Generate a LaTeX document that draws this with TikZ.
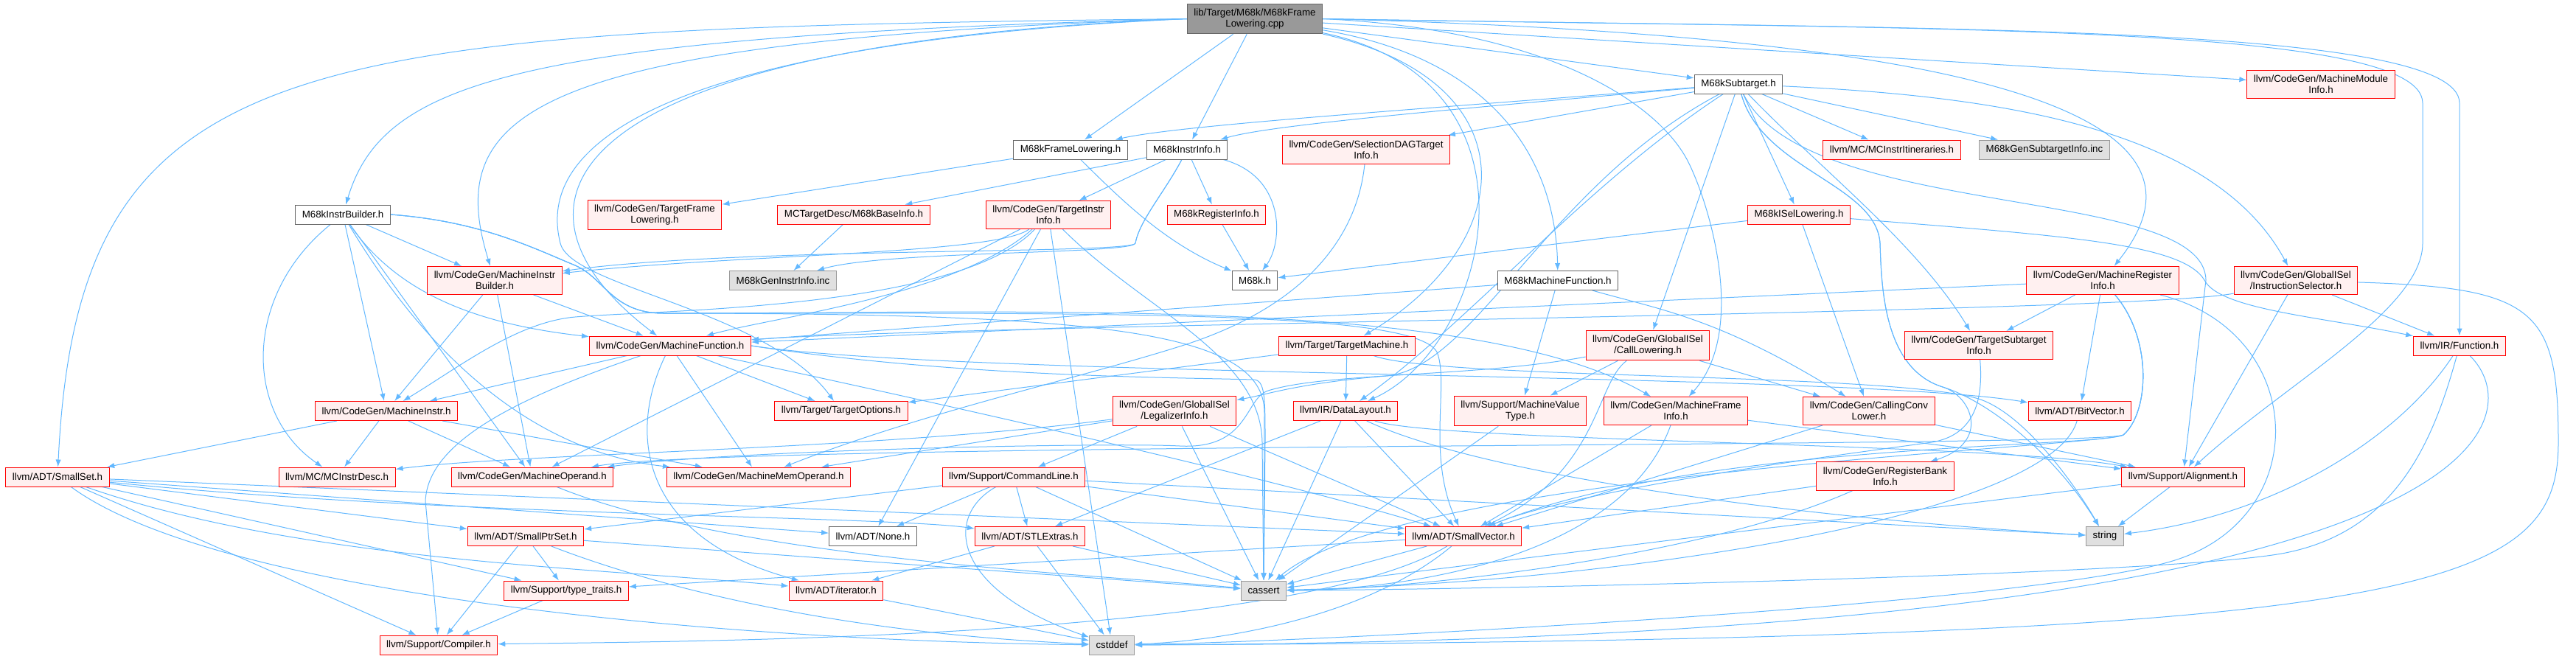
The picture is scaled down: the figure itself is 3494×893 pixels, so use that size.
\documentclass[tikz,border=0pt]{standalone}
\usepackage{fontspec}
\setmainfont{Liberation Sans}
\usetikzlibrary{arrows.meta}
\definecolor{edgeblue}{HTML}{63B8FF}
\definecolor{redfill}{HTML}{FFF0F0}
\definecolor{sysfill}{HTML}{E0E0E0}
\definecolor{sysline}{HTML}{999999}
\definecolor{rootfill}{HTML}{999999}
\definecolor{rootline}{HTML}{666666}
\pgfdeclarelayer{bg}
\pgfsetlayers{bg,main}
\begin{document}
\begin{tikzpicture}[x=0.75pt,y=-0.75pt,>={Latex[length=7.5pt,width=5.5pt]},
  hfile/.style={draw=red,fill=redfill,line width=0.75pt,font=\fontsize{10}{11.25}\selectfont,
    align=center,inner xsep=6.75pt,inner ysep=5pt,minimum height=19.5pt},
  wfile/.style={hfile,draw=rootline,fill=white},
  sfile/.style={hfile,draw=sysline,fill=sysfill},
  rfile/.style={hfile,draw=rootline,fill=rootfill},
  dep/.style={->,draw=edgeblue,line width=0.75pt}]
\useasboundingbox (0,0) rectangle (3494,893);

% rank 0 and 1
\node[rfile] (root) at (1702,25.5) {lib/Target/M68k/M68kFrame\\Lowering.cpp};
\node[wfile] (subtarget) at (2358,114) {M68kSubtarget.h};
\node[hfile] (modinfo) at (3148,114.5) {llvm/CodeGen/MachineModule\\Info.h};
% rank 2
\node[wfile] (framelow) at (1452,203) {M68kFrameLowering.h};
\node[wfile] (instrinfo) at (1610,203) {M68kInstrInfo.h};
\node[hfile] (seldag) at (1853,203) {llvm/CodeGen/SelectionDAGTarget\\Info.h};
\node[hfile] (mcitin) at (2566,203) {llvm/MC/MCInstrItineraries.h};
\node[sfile] (gensub) at (2773,203) {M68kGenSubtargetInfo.inc};
% rank 3
\node[wfile] (instrbuilder) at (465,291) {M68kInstrBuilder.h};
\node[hfile] (tframelow) at (888,291.5) {llvm/CodeGen/TargetFrame\\Lowering.h};
\node[hfile] (baseinfo) at (1158,291) {MCTargetDesc/M68kBaseInfo.h};
\node[hfile] (tinstrinfo) at (1422,291.5) {llvm/CodeGen/TargetInstr\\Info.h};
\node[hfile] (reginfo) at (1650,291) {M68kRegisterInfo.h};
\node[hfile] (isel) at (2440,291) {M68kISelLowering.h};
% rank 4
\node[hfile] (mibuilder) at (671,380.5) {llvm/CodeGen/MachineInstr\\Builder.h};
\node[sfile] (geninstr) at (1062,380.5) {M68kGenInstrInfo.inc};
\node[wfile] (m68kh) at (1702,380.5) {M68k.h};
\node[wfile] (m68kmf) at (2113,380.5) {M68kMachineFunction.h};
\node[hfile] (mreginfo) at (2852,380.5) {llvm/CodeGen/MachineRegister\\Info.h};
\node[hfile] (instsel) at (3114,380.5) {llvm/CodeGen/GlobalISel\\/InstructionSelector.h};
% rank 5
\node[hfile] (mfunc) at (909,469) {llvm/CodeGen/MachineFunction.h};
\node[hfile] (tmachine) at (1827,469) {llvm/Target/TargetMachine.h};
\node[hfile] (calllow) at (2235,468.5) {llvm/CodeGen/GlobalISel\\/CallLowering.h};
\node[hfile] (tsubinfo) at (2684,468.5) {llvm/CodeGen/TargetSubtarget\\Info.h};
\node[hfile] (irfunc) at (3336,469) {llvm/IR/Function.h};
% rank 6
\node[hfile] (minstr) at (524,557.5) {llvm/CodeGen/MachineInstr.h};
\node[hfile] (topts) at (1141,557.5) {llvm/Target/TargetOptions.h};
\node[hfile] (legal) at (1593,557.5) {llvm/CodeGen/GlobalISel\\/LegalizerInfo.h};
\node[hfile] (dlayout) at (1825,557.5) {llvm/IR/DataLayout.h};
\node[hfile] (mvt) at (2062,557.5) {llvm/Support/MachineValue\\Type.h};
\node[hfile] (mframe) at (2273,557.5) {llvm/CodeGen/MachineFrame\\Info.h};
\node[hfile] (ccl) at (2535,557.5) {llvm/CodeGen/CallingConv\\Lower.h};
\node[hfile] (bitvec) at (2821,557.5) {llvm/ADT/BitVector.h};
% rank 7
\node[hfile] (smallset) at (78,647) {llvm/ADT/SmallSet.h};
\node[hfile] (mcdesc) at (457,647) {llvm/MC/MCInstrDesc.h};
\node[hfile] (mop) at (722,647) {llvm/CodeGen/MachineOperand.h};
\node[hfile] (mmo) at (1029,647) {llvm/CodeGen/MachineMemOperand.h};
\node[hfile] (cmdline) at (1375,647) {llvm/Support/CommandLine.h};
\node[hfile] (rbi) at (2557,646) {llvm/CodeGen/RegisterBank\\Info.h};
\node[hfile] (alignh) at (2961,647) {llvm/Support/Alignment.h};
% rank 8
\node[hfile] (sptrset) at (713,727.5) {llvm/ADT/SmallPtrSet.h};
\node[wfile] (none) at (1184,727.5) {llvm/ADT/None.h};
\node[hfile] (stlext) at (1397,727.5) {llvm/ADT/STLExtras.h};
\node[hfile] (svec) at (1985,727.5) {llvm/ADT/SmallVector.h};
\node[sfile] (string) at (2855,727.5) {string};
% rank 9 and 10
\node[hfile] (ttraits) at (768,801) {llvm/Support/type\_traits.h};
\node[hfile] (iter) at (1134,801) {llvm/ADT/iterator.h};
\node[sfile] (cassert) at (1714,801) {cassert};
\node[hfile] (compiler) at (595,875) {llvm/Support/Compiler.h};
\node[sfile] (cstddef) at (1508,875) {cstddef};

\begin{pgfonlayer}{bg}
% includes of the source file
\draw[dep] (root) -- (framelow); \draw[dep] (root) -- (instrinfo);
\draw[dep] (root) -- (subtarget); \draw[dep] (root) -- (modinfo);
\draw[dep] (root.west) .. controls (400,40) and (106,60) .. (smallset);
\draw[dep] (root.west) .. controls (700,50) and (520,110) .. (instrbuilder);
\draw[dep] (root.west) .. controls (720,55) and (600,150) .. (mibuilder);
\draw[dep] (root.west) .. controls (740,60) and (660,280) .. (mfunc);
\draw[dep] (root.west) .. controls (760,65) and (740,250) .. (760,330) .. controls (775,390) and (1040,420) .. (topts);
\draw[dep] (root) .. controls (2080,110) and (2060,330) .. (tmachine);
\draw[dep] (root) .. controls (2030,80) and (2110,220) .. (m68kmf);
\draw[dep] (root) .. controls (2110,110) and (2020,470) .. (dlayout);
\draw[dep] (root.east) .. controls (2100,40) and (2250,140) .. (2290,220) .. controls (2320,280) and (2370,450) .. (mframe);
\draw[dep] (root.east) .. controls (2750,50) and (3020,170) .. (mreginfo);
\draw[dep] (root.east) .. controls (2600,40) and (3336,30) .. (3336,140) -- (irfunc);
\draw[dep] (root.east) .. controls (2600,40) and (3286,30) .. (3286,140) -- (3286,330) .. controls (3286,420) and (3100,520) .. (alignh);
% target headers
\draw[dep] (instrbuilder) -- (minstr); \draw[dep] (instrbuilder) -- (mibuilder); \draw[dep] (instrbuilder) -- (mop);
\draw[dep] (instrbuilder) .. controls (540,400) and (650,440) .. (mfunc);
\draw[dep] (instrbuilder) .. controls (330,400) and (330,560) .. (mcdesc);
\draw[dep] (instrbuilder) .. controls (560,450) and (700,610) .. (mmo);
\draw[dep] (instrbuilder.east) .. controls (650,300) and (720,335) .. (780,360) .. controls (820,377) and (830,425) .. (900,425)
  .. controls (1400,425) and (2000,400) .. (mframe);
\draw[dep] (instrbuilder.east) .. controls (650,300) and (720,335) .. (780,360) .. controls (820,377) and (830,425) .. (900,425)
  .. controls (1500,425) and (1930,420) .. (1950,480) .. controls (1965,525) and (1935,620) .. (svec);
\draw[dep] (instrbuilder.east) .. controls (650,300) and (720,335) .. (780,360) .. controls (820,377) and (830,425) .. (900,425)
  .. controls (1500,425) and (1715,450) .. (1715,560) -- (cassert);
\draw[dep] (framelow) -- (tframelow);
\draw[dep] (framelow) .. controls (1520,270) and (1580,330) .. (m68kh);
\draw[dep] (instrinfo) -- (reginfo); \draw[dep] (instrinfo) -- (baseinfo); \draw[dep] (instrinfo) -- (tinstrinfo);
\draw[dep] (instrinfo) .. controls (1745,240) and (1740,330) .. (m68kh);
\draw[dep] (instrinfo) .. controls (1580,260) and (1545,300) .. (1540,330) .. controls (1535,345) and (1000,335) .. (mibuilder);
\draw[dep] (instrinfo) .. controls (1580,260) and (1545,300) .. (1540,330) .. controls (1535,345) and (1200,340) .. (geninstr);
\draw[dep] (subtarget) -- (isel); \draw[dep] (subtarget) -- (calllow); \draw[dep] (subtarget) -- (seldag);
\draw[dep] (subtarget) -- (mcitin); \draw[dep] (subtarget) -- (gensub);
\draw[dep] (subtarget) .. controls (1900,150) and (1600,170) .. (framelow);
\draw[dep] (subtarget) .. controls (1950,150) and (1720,170) .. (instrinfo);
\draw[dep] (subtarget) .. controls (2470,230) and (2600,330) .. (tsubinfo);
\draw[dep] (subtarget) .. controls (2700,130) and (3000,170) .. (instsel);
\draw[dep] (subtarget) .. controls (2150,250) and (1990,440) .. (dlayout);
\draw[dep] (subtarget) .. controls (2100,250) and (2000,500) .. (1880,510) .. controls (1760,520) and (1720,535) .. (legal);
\draw[dep] (subtarget) .. controls (2450,300) and (2990,250) .. (2992,380) -- (alignh);
\draw[dep] (subtarget) .. controls (2390,230) and (2545,250) .. (2550,330) .. controls (2552,390) and (2555,500) .. (2635,525)
  .. controls (2675,537.5) and (2700,600) .. (rbi);
\draw[dep] (subtarget) .. controls (2390,230) and (2545,250) .. (2550,330) .. controls (2552,390) and (2555,500) .. (2635,525)
  .. controls (2700,545) and (2790,620) .. (string);
\draw[dep] (isel) -- (m68kh); \draw[dep] (isel) -- (ccl);
\draw[dep] (isel) .. controls (2800,320) and (2960,330) .. (2990,380) .. controls (3010,420) and (3150,430) .. (irfunc);
\draw[dep] (m68kmf) -- (mfunc); \draw[dep] (m68kmf) -- (mvt);
\draw[dep] (m68kmf) .. controls (2250,420) and (2330,430) .. (ccl);
\draw[dep] (reginfo) -- (m68kh); \draw[dep] (baseinfo) -- (geninstr);
\draw[dep] (seldag) .. controls (1840,330) and (1760,420) .. (1600,470) .. controls (1450,517) and (1250,560) .. (mmo);
% codegen headers
\draw[dep] (tinstrinfo) -- (mop); \draw[dep] (tinstrinfo) -- (none); \draw[dep] (tinstrinfo) -- (cstddef);
\draw[dep] (tinstrinfo) .. controls (1300,400) and (1050,430) .. (mfunc);
\draw[dep] (tinstrinfo) .. controls (1300,420) and (900,420) .. (780,430) .. controls (700,437) and (620,500) .. (minstr);
\draw[dep] (tinstrinfo) .. controls (1350,345) and (1000,345) .. (mibuilder);
\draw[dep] (tinstrinfo) .. controls (1550,420) and (1710,480) .. (1712,600) -- (cassert);
\draw[dep] (mibuilder) -- (mfunc); \draw[dep] (mibuilder) -- (minstr); \draw[dep] (mibuilder) -- (mop);
\draw[dep] (mfunc) -- (minstr); \draw[dep] (mfunc) -- (mmo); \draw[dep] (mfunc) -- (topts);
\draw[dep] (mfunc.east) .. controls (1300,512) and (2500,505) .. (bitvec);
\draw[dep] (mfunc) .. controls (1150,520) and (1700,640) .. (svec);
\draw[dep] (mfunc) .. controls (850,590) and (870,730) .. (iter);
\draw[dep] (mfunc) .. controls (700,540) and (580,600) .. (577,680) -- (compiler);
\draw[dep] (mfunc.east) .. controls (1300,512) and (1600,512) .. (1700,515) .. controls (1716,515) and (1716,540) .. (1716,600) -- (cassert);
\draw[dep] (minstr) -- (smallset); \draw[dep] (minstr) -- (mcdesc); \draw[dep] (minstr) -- (mop); \draw[dep] (minstr) -- (mmo);
\draw[dep] (mreginfo) -- (mfunc); \draw[dep] (mreginfo) -- (tsubinfo); \draw[dep] (mreginfo) -- (bitvec);
\draw[dep] (mreginfo) .. controls (2920,460) and (2915,560) .. (2880,590) .. controls (2845,607.5) and (2300,600) .. (svec);
\draw[dep] (mreginfo) .. controls (2920,460) and (2915,560) .. (2880,590) .. controls (2845,607.5) and (1000,600) .. (mop);
\draw[dep] (mreginfo) .. controls (2920,460) and (2915,560) .. (2880,590) .. controls (2845,607.5) and (1900,640) .. (cassert);
\draw[dep] (mreginfo) .. controls (3130,450) and (3140,700) .. (2950,760) .. controls (2760,820) and (1800,870) .. (cstddef);
\draw[dep] (instsel) -- (irfunc); \draw[dep] (instsel) -- (alignh);
\draw[dep] (instsel) .. controls (2900,425) and (1300,440) .. (mfunc);
\draw[dep] (instsel) .. controls (3440,390) and (3470,420) .. (3470,600) .. controls (3470,800) and (3300,868) .. (cstddef);
\draw[dep] (tmachine) -- (dlayout); \draw[dep] (tmachine) -- (topts);
\draw[dep] (tmachine) .. controls (1950,515) and (2550,505) .. (2680,540) .. controls (2740,556) and (2810,650) .. (string);
\draw[dep] (calllow) -- (mvt); \draw[dep] (calllow) -- (ccl);
\draw[dep] (calllow) .. controls (2164,520) and (2170,640) .. (svec);
\draw[dep] (calllow) .. controls (2000,512) and (1800,505) .. (1720,530) .. controls (1688,540) and (1695,610) .. (1600,605)
  .. controls (1505,600) and (1000,610) .. (mop);
\draw[dep] (tsubinfo) .. controls (2690,540) and (2680,590) .. (2620,600) .. controls (2550,610) and (2150,660) .. (svec);
\draw[dep] (irfunc) .. controls (3250,600) and (3080,700) .. (string);
\draw[dep] (irfunc) .. controls (3300,600) and (3250,720) .. (3100,750) .. controls (2950,780) and (2000,800) .. (cassert);
\draw[dep] (irfunc) .. controls (3430,560) and (3430,868) .. (cstddef);
\draw[dep] (legal) -- (svec); \draw[dep] (legal) -- (mmo); \draw[dep] (legal) -- (cmdline); \draw[dep] (legal) -- (cassert);
\draw[dep] (legal) .. controls (1200,610) and (700,615) .. (mcdesc);
\draw[dep] (dlayout) -- (stlext); \draw[dep] (dlayout) -- (svec); \draw[dep] (dlayout) -- (cassert);
\draw[dep] (dlayout) .. controls (1950,600) and (2700,600) .. (alignh);
\draw[dep] (dlayout) .. controls (2000,640) and (2400,700) .. (string);
\draw[dep] (mvt) -- (cassert);
\draw[dep] (mframe) -- (svec); \draw[dep] (mframe) -- (alignh);
\draw[dep] (mframe) .. controls (2200,760) and (1900,800) .. (cassert);
\draw[dep] (ccl) -- (svec); \draw[dep] (ccl) -- (alignh);
\draw[dep] (bitvec) .. controls (2780,700) and (2200,790) .. (cassert);
\draw[dep] (mop) .. controls (1000,760) and (1500,780) .. (cassert);
\draw[dep] (rbi) -- (svec);
\draw[dep] (rbi) .. controls (2300,760) and (1900,800) .. (cassert);
% support and adt headers
\draw[dep] (smallset) -- (sptrset); \draw[dep] (smallset) -- (svec); \draw[dep] (smallset) -- (none);
\draw[dep] (smallset) -- (compiler); \draw[dep] (smallset) -- (ttraits);
\draw[dep] (smallset) .. controls (600,700) and (1200,700) .. (stlext);
\draw[dep] (smallset) .. controls (400,760) and (800,770) .. (iter);
\draw[dep] (smallset) .. controls (300,810) and (1000,870) .. (cstddef);
\draw[dep] (cmdline) -- (none); \draw[dep] (cmdline) -- (stlext); \draw[dep] (cmdline) -- (sptrset);
\draw[dep] (cmdline) -- (svec); \draw[dep] (cmdline) -- (cassert); \draw[dep] (cmdline) -- (string);
\draw[dep] (cmdline) .. controls (1280,700) and (1290,800) .. (cstddef);
\draw[dep] (alignh) -- (cassert); \draw[dep] (alignh) -- (string);
\draw[dep] (sptrset) -- (compiler); \draw[dep] (sptrset) -- (ttraits); \draw[dep] (sptrset) -- (cassert);
\draw[dep] (sptrset) .. controls (900,800) and (1150,860) .. (cstddef);
\draw[dep] (stlext) -- (iter); \draw[dep] (stlext) -- (cassert); \draw[dep] (stlext) -- (cstddef);
\draw[dep] (svec) -- (ttraits); \draw[dep] (svec) -- (cassert);
\draw[dep] (svec) .. controls (1750,870) and (900,870) .. (compiler);
\draw[dep] (svec) .. controls (1850,840) and (1650,870) .. (cstddef);
\draw[dep] (ttraits) -- (compiler); \draw[dep] (iter) -- (cstddef);
\end{pgfonlayer}
\end{tikzpicture}
\end{document}
